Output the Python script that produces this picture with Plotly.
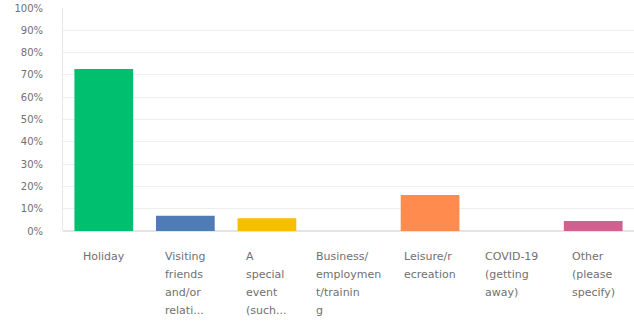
import plotly.graph_objects as go

# Survey responses: share of respondents per travel purpose
categories = [
    "Holiday",
    "Visiting friends and/or relatives",
    "A special event (such as ...)",
    "Business/employment/training",
    "Leisure/recreation",
    "COVID-19 (getting away)",
    "Other (please specify)",
]
label_lines = [
    ["Holiday"],
    ["Visiting", "friends", "and/or", "relati..."],
    ["A", "special", "event", "(such..."],
    ["Business/", "employmen", "t/trainin", "g"],
    ["Leisure/r", "ecreation"],
    ["COVID-19", "(getting", "away)"],
    ["Other", "(please", "specify)"],
]
percent = [72.7, 6.8, 5.7, 0.0, 16.1, 0.0, 4.5]
colors = ["#00BF6F", "#507CB6", "#F9BE00", "#6BC8CD", "#FF8B4F", "#7D5BA6", "#D25F90"]
y_ticks = list(range(0, 101, 10))

FONT = "DejaVu Sans"
TEXT_COLOR = "#707070"

fig = go.Figure(
    go.Bar(
        x=categories,
        y=percent,
        marker=dict(color=colors, line=dict(width=0)),
        width=0.72,
        hoverinfo="x+y",
    )
)

# Category labels: left-aligned multi-line blocks centred under each bar,
# with generous line spacing (large annotation font, smaller inner span).
annotations = []
for cat, lines in zip(categories, label_lines):
    text = "<br>".join(f'<span style="font-size:11px">{ln}</span>' for ln in lines)
    annotations.append(
        dict(
            x=cat,
            xref="x",
            y=0,
            yref="paper",
            yanchor="top",
            xanchor="center",
            align="left",
            yshift=-17,
            showarrow=False,
            text=text,
            font=dict(family=FONT, size=13.8, color=TEXT_COLOR),
        )
    )

fig.update_layout(
    width=634,
    height=322,
    margin=dict(l=63, r=0, t=8, b=91),
    paper_bgcolor="white",
    plot_bgcolor="white",
    showlegend=False,
    bargap=0.28,
    annotations=annotations,
    xaxis=dict(
        showticklabels=False,
        showgrid=False,
        zeroline=False,
        showline=False,
        ticks="",
    ),
    yaxis=dict(
        range=[0, 100],
        tickvals=y_ticks,
        ticktext=[f"{v}%" for v in y_ticks],
        showgrid=True,
        gridcolor="#eeeeee",
        gridwidth=1,
        zeroline=True,
        zerolinecolor="#e4e4e4",
        showline=True,
        linecolor="#e8e8e8",
        ticks="",
        ticklabelstandoff=17,
        tickfont=dict(family=FONT, size=10, color=TEXT_COLOR),
    ),
)

fig.write_html("out.html")
